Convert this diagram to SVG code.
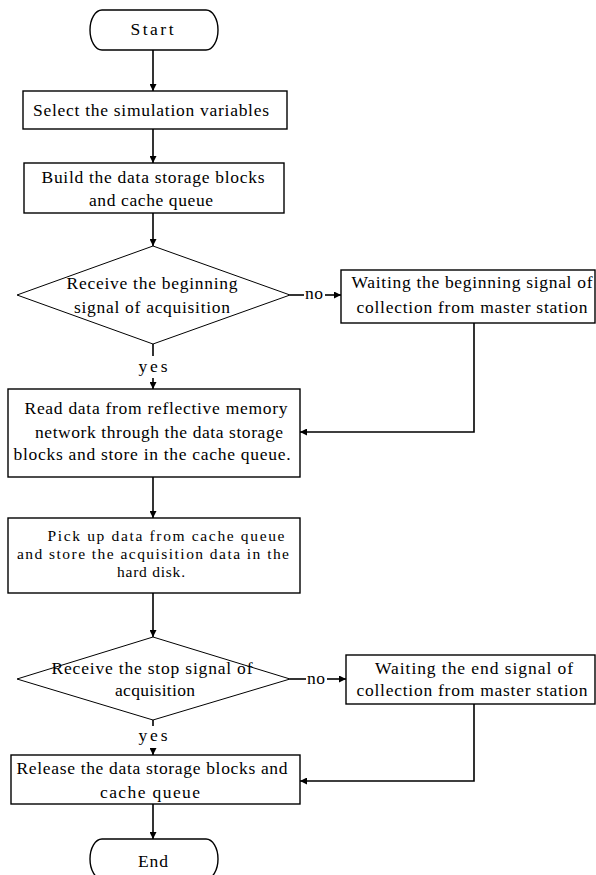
<svg xmlns="http://www.w3.org/2000/svg" width="596" height="875" viewBox="0 0 596 875">
  <defs>
    <marker id="arr" viewBox="0 0 10 10" refX="10" refY="5" markerWidth="7" markerHeight="7" markerUnits="userSpaceOnUse" orient="auto">
      <path d="M0,0 L10,5 L0,10 Z" fill="#000"/>
    </marker>
    <style>
      .shape { fill: #fff; stroke: #000; stroke-width: 1.4; }
      .dia { fill: #fff; stroke: #000; stroke-width: 1; }
      .t { font-family: "Liberation Serif", "Times New Roman", serif; font-size: 17.5px; fill: #000; text-anchor: middle; }
      .tight { font-size: 15.5px; }
      .wire { fill: none; stroke: #000; stroke-width: 1.6; }
    </style>
  </defs>
  <rect width="596" height="875" fill="#fff"/>

  <!-- connectors and their labels -->
  <g id="connectors">
    <path class="wire" d="M153,50 V91" marker-end="url(#arr)"/>
    <path class="wire" d="M153,129 V163" marker-end="url(#arr)"/>
    <path class="wire" d="M153,213 V246" marker-end="url(#arr)"/>
    <path class="wire" d="M153,344 V356"/>
    <path class="wire" d="M153,378 V389" marker-end="url(#arr)"/>
    <path class="wire" d="M290,295 H304"/>
    <path class="wire" d="M325,295 H341" marker-end="url(#arr)"/>
    <path class="wire" d="M474,323 V432 H300" marker-end="url(#arr)"/>
    <path class="wire" d="M153,477 V518" marker-end="url(#arr)"/>
    <path class="wire" d="M153,593 V637" marker-end="url(#arr)"/>
    <path class="wire" d="M153,720 V726"/>
    <path class="wire" d="M153,749 V755" marker-end="url(#arr)"/>
    <path class="wire" d="M290,679 H306"/>
    <path class="wire" d="M327,679 H346" marker-end="url(#arr)"/>
    <path class="wire" d="M474,704 V781 H300" marker-end="url(#arr)"/>
    <path class="wire" d="M153,804 V839" marker-end="url(#arr)"/>
    <text class="t" x="153" y="372" textLength="29" lengthAdjust="spacing">yes</text>
    <text class="t" x="314" y="299" textLength="18" lengthAdjust="spacing">no</text>
    <text class="t" x="316" y="684" textLength="18" lengthAdjust="spacing">no</text>
    <text class="t" x="153" y="741" textLength="29" lengthAdjust="spacing">yes</text>
  </g>

  <g id="start">
    <rect class="shape" x="90" y="10" width="128" height="40" rx="12" ry="20"/>
    <text class="t" x="152" y="35" textLength="43" lengthAdjust="spacing">Start</text>
  </g>

  <g id="select-vars">
    <rect class="shape" x="23" y="91" width="264" height="38"/>
    <text class="t" x="151" y="116" textLength="236" lengthAdjust="spacing">Select the simulation variables</text>
  </g>

  <g id="build-blocks">
    <rect class="shape" x="24" y="163" width="260" height="50"/>
    <text class="t" x="153" y="183" textLength="223" lengthAdjust="spacing">Build the data storage blocks</text>
    <text class="t" x="151" y="206" textLength="124" lengthAdjust="spacing">and cache queue</text>
  </g>

  <g id="begin-signal">
    <polygon class="dia" points="153,246 290,295 153,344 17,295"/>
    <text class="t" x="152" y="289" textLength="171" lengthAdjust="spacing">Receive the beginning</text>
    <text class="t" x="152" y="313" textLength="156" lengthAdjust="spacing">signal of acquisition</text>
  </g>

  <g id="wait-begin">
    <rect class="shape" x="341" y="270" width="254" height="53"/>
    <text class="t" x="472" y="288" textLength="241" lengthAdjust="spacing">Waiting the beginning signal of</text>
    <text class="t" x="472" y="313" textLength="231" lengthAdjust="spacing">collection from master station</text>
  </g>

  <g id="read-data">
    <rect class="shape" x="8" y="389" width="292" height="88"/>
    <text class="t" x="156" y="414" textLength="263" lengthAdjust="spacing">Read data from reflective memory</text>
    <text class="t" x="159" y="438" textLength="248" lengthAdjust="spacing">network through the data storage</text>
    <text class="t" x="152" y="460" textLength="277" lengthAdjust="spacing">blocks and store in the cache queue.</text>
  </g>

  <g id="pick-up">
    <rect class="shape" x="8" y="518" width="292" height="75"/>
    <text class="t tight" x="166" y="541" textLength="237" lengthAdjust="spacing">Pick up data from cache queue</text>
    <text class="t tight" x="153" y="559" textLength="272" lengthAdjust="spacing">and store the acquisition data in the</text>
    <text class="t tight" x="151" y="577" textLength="68" lengthAdjust="spacing">hard disk.</text>
  </g>

  <g id="stop-signal">
    <polygon class="dia" points="153,637 290,679 153,720 17,679"/>
    <text class="t" x="152" y="674" textLength="201" lengthAdjust="spacing">Receive the stop signal of</text>
    <text class="t" x="155" y="696" textLength="80" lengthAdjust="spacing">acquisition</text>
  </g>

  <g id="wait-end">
    <rect class="shape" x="346" y="655" width="249" height="49"/>
    <text class="t" x="474" y="674" textLength="198" lengthAdjust="spacing">Waiting the end signal of</text>
    <text class="t" x="472" y="696" textLength="231" lengthAdjust="spacing">collection from master station</text>
  </g>

  <g id="release">
    <rect class="shape" x="11" y="755" width="289" height="49"/>
    <text class="t" x="152" y="774" textLength="271" lengthAdjust="spacing">Release the data storage blocks and</text>
    <text class="t" x="150" y="798" textLength="100" lengthAdjust="spacing">cache queue</text>
  </g>

  <g id="end">
    <rect class="shape" x="90" y="839" width="128" height="40" rx="12" ry="20"/>
    <text class="t" x="153" y="867" textLength="30" lengthAdjust="spacing">End</text>
  </g>
</svg>
